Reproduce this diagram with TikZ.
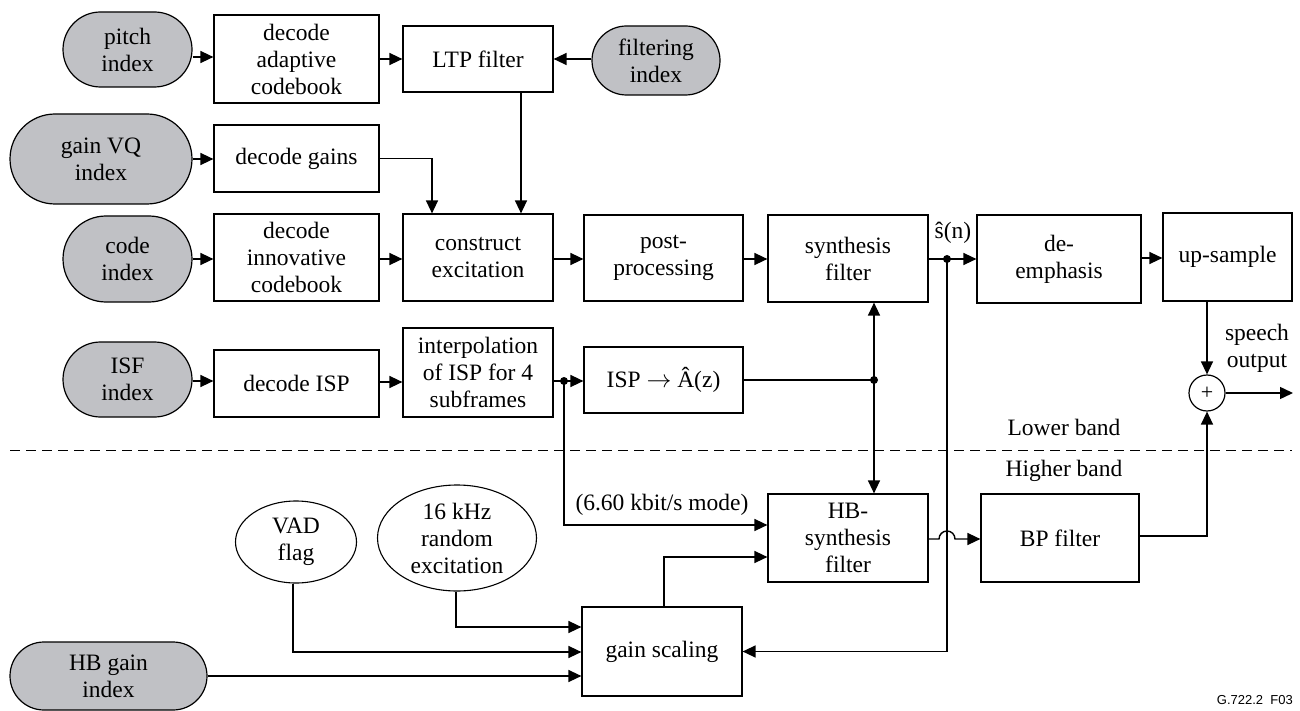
\documentclass[tikz,border=0pt]{standalone}
\usepackage{fontspec}
\setmainfont{Liberation Serif}
\newfontfamily\labelsans{Liberation Sans}
\usetikzlibrary{arrows.meta,shapes.misc,shapes.geometric}
\definecolor{pillgray}{RGB}{192,193,197}
\begin{document}
\begin{tikzpicture}[x=1pt,y=1pt,
  font=\fontsize{23.5}{27}\selectfont,
  every node/.style={align=center, inner sep=0pt},
  box/.style={draw, line width=1.2pt, rectangle},
  pillnode/.style={draw, line width=1.2pt, rounded rectangle, fill=pillgray},
  oval/.style={draw, line width=1.1pt, ellipse},
  arr/.style={line width=1.4pt, -{Triangle[length=13pt,width=12pt]}},
  ln/.style={line width=1.4pt}
]
\useasboundingbox (0,0) rectangle (1300,-711);

% ---------- nodes ----------
\node[pillnode, minimum width=129pt, minimum height=75pt] (pitch) at (127.5,-49.5) {pitch\\index};
\node[box, minimum width=165pt, minimum height=88pt] (dac) at (296.5,-59) {decode\\adaptive\\codebook};
\node[box, minimum width=150pt, minimum height=66pt] (ltp) at (478,-59) {LTP filter};
\node[pillnode, minimum width=128pt, minimum height=69pt] (filt) at (656,-60.5) {filtering\\index};

\node[pillnode, minimum width=182pt, minimum height=90pt] (gvq) at (101,-159) {gain VQ\\index};
\node[box, minimum width=165pt, minimum height=67pt] (dg) at (296.5,-158.5) {decode gains};

\node[pillnode, minimum width=129pt, minimum height=86pt] (code) at (127.5,-259) {code\\index};
\node[box, minimum width=165pt, minimum height=87pt] (dic) at (296.5,-257.5) {decode\\innovative\\codebook};
\node[box, minimum width=150pt, minimum height=87pt] (ce) at (478,-257.5) {construct\\excitation};
\node[box, minimum width=159pt, minimum height=86pt] (pp) at (663.5,-258) {post-\\processing};
\node[box, minimum width=160pt, minimum height=87pt] (sf) at (848,-258.5) {synthesis\\filter};
\node[box, minimum width=164pt, minimum height=88pt] (de) at (1059,-259) {de-\\emphasis};
\node[box, minimum width=129pt, minimum height=88pt] (us) at (1227.5,-257) {up-sample};
\node[draw, circle, line width=1.2pt, minimum size=36pt, font=\fontsize{22}{22}\selectfont] (sum) at (1207,-393) {+};

\node[pillnode, minimum width=129pt, minimum height=75pt] (isf) at (127.5,-379.5) {ISF\\index};
\node[box, minimum width=165pt, minimum height=67pt] (disp) at (296.5,-383.5) {decode ISP};
\node[box, minimum width=150pt, minimum height=89pt] (interp) at (478,-372.5) {interpolation\\of ISP for 4\\subframes};
\node[box, minimum width=159pt, minimum height=66pt] (isp) at (663.5,-380) {ISP $\rightarrow$ Â(z)};

\node[box, minimum width=160pt, minimum height=88pt] (hbs) at (848,-538) {HB-\\synthesis\\filter};
\node[box, minimum width=158pt, minimum height=88pt] (bp) at (1060,-538) {BP filter};
\node[oval, minimum width=121pt, minimum height=82pt] (vad) at (296,-542) {VAD\\flag};
\node[oval, minimum width=159pt, minimum height=106pt] (rnd) at (457,-538) {16 kHz\\random\\excitation};
\node[box, minimum width=160pt, minimum height=89pt] (gs) at (662,-651.5) {gain scaling};
\node[pillnode, minimum width=197pt, minimum height=68pt] (hbg) at (108.5,-676) {HB gain\\index};

% ---------- labels ----------
\node (sh) at (953,-233) {ŝ(n)};
\node (so) at (1257,-348) {speech\\output};
\node (lb) at (1064,-427) {Lower band};
\node (hb) at (1064,-471) {Higher band};
\node (mode) at (662,-505) {(6.60 kbit/s mode)};
\node[anchor=east, font=\labelsans\fontsize{13}{13}\selectfont] (fig) at (1293,-700) {G.722.2\ \ F03};

% ---------- band separator ----------
\draw[line width=1pt, dash pattern=on 10pt off 6pt] (10,-450) -- (1292,-450);

% ---------- junctions ----------
\coordinate (j1) at (564,-381);
\coordinate (j2) at (874,-380);
\coordinate (j3) at (947,-259);
\coordinate (out) at (1293,-393);

% ---------- connectors ----------
\draw[arr] (pitch.east |- 0,-57) -- (dac.west |- 0,-57);
\draw[arr] (dac.east) -- (ltp.west);
\draw[arr] (filt.west |- 0,-59) -- (ltp.east |- 0,-59);
\draw[arr] (ltp.south -| 521,0) -- (ce.north -| 521,0);
\draw[arr] (gvq.east |- 0,-159) -- (dg.west |- 0,-159);
\draw[arr] (dg.east) -| (ce.north -| 432,0);

\draw[arr] (code.east |- 0,-259) -- (dic.west |- 0,-259);
\draw[arr] (dic.east |- 0,-259) -- (ce.west |- 0,-259);
\draw[arr] (ce.east |- 0,-259) -- (pp.west |- 0,-259);
\draw[arr] (pp.east |- 0,-259) -- (sf.west |- 0,-259);
\draw[arr] (sf.east |- j3) -- (de.west |- j3);
\draw[arr] (de.east |- 0,-258) -- (us.west |- 0,-258);
\draw[arr] (us.south -| sum) -- (sum.north);
\draw[arr] (sum.east) -- (out);

\draw[arr] (isf.east |- 0,-381) -- (disp.west |- 0,-381);
\draw[arr] (disp.east |- 0,-382) -- (interp.west |- 0,-382);
\draw[arr] (interp.east |- j1) -- (isp.west |- j1);
\draw[arr] (j1) |- (hbs.west |- 0,-525);
\draw[ln] (isp.east |- j2) -- (j2);
\draw[arr] (j2) -- (sf.south -| j2);
\draw[arr] (j2) -- (hbs.north -| j2);

\draw[arr] (j3) |- (gs.east);
\draw[arr] (hbs.east |- 0,-539) -- (939,-539) arc[start angle=180, end angle=0, radius=8pt] -- (bp.west |- 0,-539);
\draw[arr] (bp.east |- 0,-536) -| (sum.south);

\draw[arr] (gs.north -| 664,0) |- (hbs.west |- 0,-557);
\draw[arr] (rnd.south -| 456,0) |- (gs.west |- 0,-627);
\draw[arr] (vad.south -| 293,0) |- (gs.west |- 0,-652);
\draw[arr] (hbg.east |- 0,-676) -- (gs.west |- 0,-676);

\fill (j1) circle (4pt);
\fill (j2) circle (4pt);
\fill (j3) circle (4pt);
\end{tikzpicture}
\end{document}
